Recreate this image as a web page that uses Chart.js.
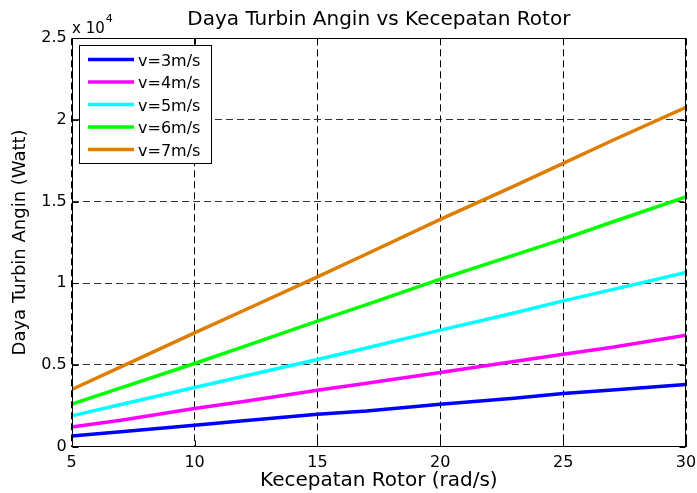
<!DOCTYPE html>
<html>
<head>
<meta charset="utf-8">
<script src="https://cdn.jsdelivr.net/npm/chart.js@4.4.1/dist/chart.umd.min.js"></script>
<style>
  html, body { margin: 0; padding: 0; background: #fff; }
  #wrap { width: 697px; height: 493px; }
</style>
</head>
<body>
<div id="wrap"><canvas id="c" width="697" height="493"></canvas></div>
<script>
// Rotor speed (rad/s) at which the turbine power was sampled
const rotorSpeed = [5, 7, 10, 12, 15, 17, 20, 23, 25, 27, 30];

// Turbine power (W) for each wind speed
const powerV3 = [650, 900, 1300, 1570, 1980, 2180, 2590, 2950, 3250, 3460, 3800];
const powerV4 = [1200, 1610, 2330, 2750, 3450, 3880, 4530, 5200, 5650, 6080, 6820];
const powerV5 = [1875, 2570, 3615, 4300, 5330, 6030, 7125, 8180, 8920, 9610, 10660];
const powerV6 = [2590, 3590, 5085, 6120, 7680, 8690, 10250, 11720, 12700, 13750, 15290];
const powerV7 = [3490, 4880, 6960, 8330, 10390, 11790, 13910, 15950, 17340, 18740, 20770];

const seriesLabels = ['v=3m/s', 'v=4m/s', 'v=5m/s', 'v=6m/s', 'v=7m/s'];
const seriesPower = [powerV3, powerV4, powerV5, powerV6, powerV7];
const seriesColors = ['#0000ff', '#ff00ff', '#00ffff', '#00ff00', '#de7d00'];

// Axis ticks
const xTickValues = [5, 10, 15, 20, 25, 30];
const yTickValues = [0, 5000, 10000, 15000, 20000, 25000];
const yScaleExponent = 4;

const FONT = "'DejaVu Sans', Verdana, sans-serif";
Chart.defaults.font.family = FONT;
Chart.defaults.color = '#000';

const datasets = seriesLabels.map((label, i) => ({
  label,
  data: rotorSpeed.map((x, j) => ({ x, y: seriesPower[i][j] })),
  borderColor: seriesColors[i],
  backgroundColor: seriesColors[i],
  borderWidth: 3.5,
  pointRadius: 0,
  tension: 0,
  fill: false,
  borderJoinStyle: 'round'
}));

// Box frame, inward tick marks, exponent label and boxed legend
const matlabDecor = {
  id: 'matlabDecor',
  afterDraw(chart) {
    const { ctx, chartArea: a, scales } = chart;
    const L = Math.round(a.left) + 0.5, R = Math.round(a.right) - 0.5;
    const T = Math.round(a.top) + 0.5, B = Math.round(a.bottom) - 0.5;
    ctx.save();
    ctx.strokeStyle = '#000';
    ctx.lineWidth = 1;
    ctx.setLineDash([]);
    ctx.strokeRect(L, T, R - L, B - T);

    // inward tick marks on all four sides
    const tl = 6;
    ctx.beginPath();
    xTickValues.forEach(v => {
      const px = Math.round(scales.x.getPixelForValue(v)) + 0.5;
      ctx.moveTo(px, B); ctx.lineTo(px, B - tl);
      ctx.moveTo(px, T); ctx.lineTo(px, T + tl);
    });
    yTickValues.forEach(v => {
      const py = Math.round(scales.y.getPixelForValue(v)) + 0.5;
      ctx.moveTo(L, py); ctx.lineTo(L + tl, py);
      ctx.moveTo(R, py); ctx.lineTo(R - tl, py);
    });
    ctx.stroke();

    // exponent label above the y axis
    ctx.fillStyle = '#000';
    ctx.textAlign = 'left';
    ctx.textBaseline = 'alphabetic';
    ctx.font = '15px ' + FONT;
    const base = 'x 10';
    ctx.fillText(base, 72, 33);
    const w = ctx.measureText(base).width;
    ctx.font = '11px ' + FONT;
    ctx.fillText(String(yScaleExponent), 72 + w + 1, 22);

    // legend box
    const bx = 79.5, by = 45.5, bw = 132, bh = 118;
    ctx.fillStyle = '#fff';
    ctx.fillRect(bx, by, bw, bh);
    ctx.strokeRect(bx, by, bw, bh);
    ctx.font = '16px ' + FONT;
    ctx.textBaseline = 'middle';
    seriesLabels.forEach((label, i) => {
      const y = 59.5 + i * 22.5;
      ctx.strokeStyle = seriesColors[i];
      ctx.lineWidth = 3.5;
      ctx.beginPath();
      ctx.moveTo(88, y); ctx.lineTo(134, y);
      ctx.stroke();
      ctx.fillStyle = '#000';
      ctx.fillText(label, 138, y + 2);
    });
    ctx.restore();
  }
};

new Chart(document.getElementById('c'), {
  type: 'line',
  data: { datasets },
  options: {
    responsive: false,
    devicePixelRatio: 1,
    animation: false,
    layout: { padding: { left: 0, right: 11, top: 0, bottom: 0 } },
    plugins: {
      legend: { display: false },
      tooltip: { enabled: false },
      title: {
        display: true,
        fullSize: false,
        text: 'Daya Turbin Angin vs Kecepatan Rotor',
        font: { size: 20, weight: 'normal', family: FONT },
        color: '#000',
        padding: { top: 8, bottom: 6.3 }
      }
    },
    scales: {
      x: {
        type: 'linear',
        min: 5,
        max: 30,
        afterBuildTicks: s => { s.ticks = xTickValues.map(v => ({ value: v })); },
        ticks: { font: { size: 16 }, padding: 7, maxRotation: 0, color: '#000' },
        grid: { color: '#000', lineWidth: 1, drawTicks: false },
        border: { display: false, dash: [7, 4] },
        title: {
          display: true,
          text: 'Kecepatan Rotor (rad/s)',
          font: { size: 20 },
          color: '#000',
          padding: { top: 0, bottom: 0 }
        },
        afterFit: s => { s.height = 46.5; s.paddingLeft = 0; s.paddingRight = 0; }
      },
      y: {
        type: 'linear',
        min: 0,
        max: 25000,
        afterBuildTicks: s => { s.ticks = yTickValues.map(v => ({ value: v })); },
        ticks: {
          font: { size: 16 },
          padding: 5,
          color: '#000',
          callback: v => String(v / Math.pow(10, yScaleExponent))
        },
        grid: { color: '#333', lineWidth: 1, drawTicks: false },
        border: { display: false, dash: [7, 4] },
        title: {
          display: true,
          text: 'Daya Turbin Angin (Watt)',
          font: { size: 18 },
          color: '#000',
          padding: { top: 9.2, bottom: 0 }
        },
        afterFit: s => { s.width = 71.7; s.paddingTop = 0; s.paddingBottom = 0; }
      }
    }
  },
  plugins: [matlabDecor]
});
</script>
</body>
</html>
